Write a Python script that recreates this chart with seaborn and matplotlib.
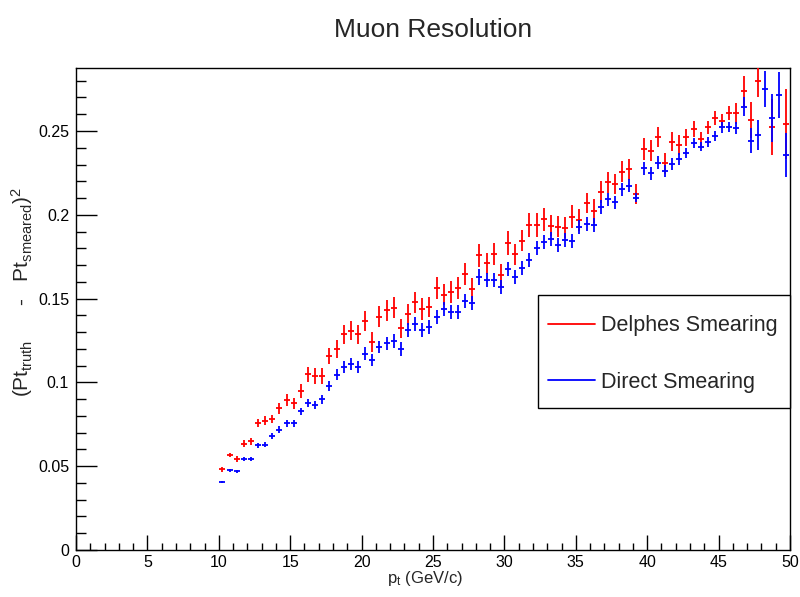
import matplotlib
matplotlib.use("Agg")
import numpy as np
import pandas as pd
import seaborn as sns
import matplotlib.pyplot as plt
from matplotlib.lines import Line2D
from matplotlib.patches import Rectangle

# ---- data -------------------------------------------------------------
bin_lo = 10.0
bin_width = 0.5
n_bins = 80
pt_centers = [bin_lo + bin_width * (i + 0.5) for i in range(n_bins)]

delphes = [0.0483, 0.0567, 0.0543, 0.0634, 0.0648, 0.0758, 0.0770, 0.0780, 0.0845, 0.0895,
           0.0875, 0.0949, 0.1048, 0.1037, 0.1038, 0.1157, 0.1201, 0.1287, 0.1309, 0.1287,
           0.1368, 0.1243, 0.1392, 0.1430, 0.1446, 0.1323, 0.1406, 0.1478, 0.1440, 0.1450,
           0.1563, 0.1523, 0.1541, 0.1561, 0.1647, 0.1555, 0.1758, 0.1711, 0.1766, 0.1639,
           0.1830, 0.1764, 0.1846, 0.1939, 0.1939, 0.1973, 0.1935, 0.1929, 0.1923, 0.1989,
           0.1969, 0.2072, 0.2023, 0.2138, 0.2194, 0.2184, 0.2257, 0.2273, 0.2122, 0.2393,
           0.2383, 0.2462, 0.2307, 0.2436, 0.2416, 0.2462, 0.2512, 0.2452, 0.2522, 0.2576,
           0.2562, 0.2606, 0.2606, 0.2739, 0.2566, 0.2800, np.nan, 0.2526, np.nan, 0.2544]
delphes_err = [0.0015, 0.0014, 0.0015, 0.0020, 0.0020, 0.0026, 0.0027, 0.0025, 0.0035, 0.0037,
               0.0034, 0.0041, 0.0045, 0.0047, 0.0047, 0.0050, 0.0055, 0.0057, 0.0058, 0.0057,
               0.0060, 0.0060, 0.0061, 0.0064, 0.0063, 0.0058, 0.0064, 0.0064, 0.0066, 0.0061,
               0.0063, 0.0064, 0.0067, 0.0066, 0.0067, 0.0070, 0.0067, 0.0064, 0.0067, 0.0067,
               0.0072, 0.0063, 0.0064, 0.0070, 0.0070, 0.0067, 0.0064, 0.0064, 0.0064, 0.0067,
               0.0067, 0.0061, 0.0070, 0.0066, 0.0064, 0.0060, 0.0063, 0.0063, 0.0060, 0.0064,
               0.0064, 0.0060, 0.0064, 0.0057, 0.0060, 0.0050, 0.0048, 0.0045, 0.0040, 0.0042,
               0.0040, 0.0043, 0.0064, 0.0090, 0.0109, 0.0100, np.nan, 0.0167, np.nan, 0.0209]

direct = [0.0408, 0.0475, 0.0469, 0.0541, 0.0545, 0.0626, 0.0628, 0.0680, 0.0718, 0.0756,
          0.0756, 0.0829, 0.0877, 0.0865, 0.0899, 0.0977, 0.1046, 0.1094, 0.1108, 0.1094,
          0.1171, 0.1134, 0.1211, 0.1233, 0.1247, 0.1199, 0.1312, 0.1347, 0.1313, 0.1329,
          0.1392, 0.1438, 0.1418, 0.1418, 0.1486, 0.1476, 0.1629, 0.1609, 0.1609, 0.1567,
          0.1677, 0.1631, 0.1681, 0.1730, 0.1800, 0.1840, 0.1854, 0.1820, 0.1848, 0.1844,
          0.1927, 0.1943, 0.1937, 0.2048, 0.2092, 0.2074, 0.2152, 0.2174, 0.2102, 0.2277,
          0.2247, 0.2311, 0.2263, 0.2301, 0.2333, 0.2370, 0.2428, 0.2407, 0.2436, 0.2470,
          0.2522, 0.2522, 0.2516, 0.2645, 0.2442, 0.2476, 0.2751, 0.2580, 0.2717, 0.2357]
direct_err = [0.0006, 0.0009, 0.0009, 0.0012, 0.0012, 0.0015, 0.0015, 0.0018, 0.0020, 0.0020,
              0.0020, 0.0021, 0.0022, 0.0023, 0.0025, 0.0030, 0.0034, 0.0035, 0.0035, 0.0035,
              0.0038, 0.0038, 0.0038, 0.0040, 0.0041, 0.0041, 0.0040, 0.0042, 0.0042, 0.0042,
              0.0042, 0.0042, 0.0042, 0.0042, 0.0042, 0.0042, 0.0045, 0.0042, 0.0042, 0.0042,
              0.0042, 0.0042, 0.0042, 0.0042, 0.0042, 0.0042, 0.0042, 0.0042, 0.0042, 0.0042,
              0.0042, 0.0042, 0.0042, 0.0041, 0.0038, 0.0038, 0.0038, 0.0038, 0.0028, 0.0040,
              0.0039, 0.0038, 0.0036, 0.0036, 0.0033, 0.0030, 0.0030, 0.0028, 0.0030, 0.0028,
              0.0032, 0.0030, 0.0035, 0.0055, 0.0075, 0.0090, 0.0109, 0.0143, 0.0137, 0.0134]

x_half_width = 0.21
series_labels = ["Delphes Smearing", "Direct Smearing"]
series_colors = ["#ff0000", "#0000ff"]
x_ticks = [0, 5, 10, 15, 20, 25, 30, 35, 40, 45, 50]
y_ticks = [0, 0.05, 0.1, 0.15, 0.2, 0.25]
y_tick_labels = ["0", "0.05", "0.1", "0.15", "0.2", "0.25"]

df = pd.DataFrame({"pt": pt_centers, "delphes": delphes, "delphes_err": delphes_err,
                   "direct": direct, "direct_err": direct_err})

# ---- style ------------------------------------------------------------
sns.set_theme(style="ticks")
plt.rcParams["font.family"] = ["Liberation Sans", "DejaVu Sans"]
plt.rcParams["mathtext.default"] = "regular"

fig = plt.figure(figsize=(8.0, 5.97), dpi=100)
ax = fig.add_axes([76 / 800, 47 / 597, 714 / 800, 482 / 597])

for col, ecol, color in [("delphes", "delphes_err", series_colors[0]),
                         ("direct", "direct_err", series_colors[1])]:
    ax.errorbar(df["pt"], df[col], yerr=df[ecol], xerr=x_half_width, fmt="none",
                ecolor=color, elinewidth=1.3, capsize=0, zorder=3)

ax.set_xlim(0, 50)
ax.set_ylim(0, 0.2876)
ax.set_xticks(x_ticks)
ax.set_xticklabels([str(t) for t in x_ticks])
ax.set_yticks(y_ticks)
ax.set_yticklabels(y_tick_labels)
ax.set_xticks(np.arange(0, 51, 1), minor=True)
ax.set_yticks(np.arange(0, 0.2876, 0.01), minor=True)

for s in ax.spines.values():
    s.set_color("black")
    s.set_linewidth(1.0)
    s.set_visible(True)

ax.tick_params(which="both", direction="in", top=False, right=False, colors="black",
               width=1.0, labelsize=11.5)
ax.tick_params(axis="y", which="major", length=15, pad=5)
ax.tick_params(axis="y", which="minor", length=7.5)
ax.tick_params(axis="x", which="major", length=10.5, pad=3.5)
ax.tick_params(axis="x", which="minor", length=5.2)

ax.set_xlabel(r"$p_{t}$ (GeV/c)", fontsize=12)
ax.xaxis.set_label_coords(0.489, -0.04)
ax.set_ylabel(r"$(Pt_{truth}$      -   $Pt_{smeared})^{2}$", fontsize=15)
ax.yaxis.set_label_coords(-0.058, 0.535)

fig.text(433 / 800, 1 - 30 / 597, "Muon Resolution", ha="center", va="center", fontsize=19)

# legend box
ax.add_patch(Rectangle((0.647, 0.2946), 0.353, 0.2344, transform=ax.transAxes,
                       facecolor="white", edgecolor="black", linewidth=1.0,
                       zorder=5, clip_on=False))
handles = [Line2D([], [], color=c, lw=1.3) for c in series_colors]
leg = ax.legend(handles, series_labels, loc="upper left", bbox_to_anchor=(0.661, 0.487),
                frameon=False, fontsize=15.5, handlelength=2.2, handletextpad=0.28,
                labelspacing=1.65, borderpad=0, borderaxespad=0)
leg.set_zorder(6)

fig.savefig("out.png", dpi=100, facecolor="white")
